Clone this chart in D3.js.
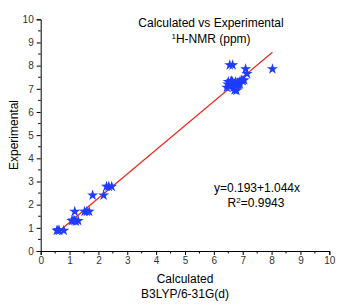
<!DOCTYPE html>
<html>
<head>
  <script src="https://d3js.org/d3.v7.min.js"></script>
  <style>
    body { margin: 0; background: #fff; }
    svg text { font-family: "Liberation Sans", Arial, sans-serif; fill: #000; }
  </style>
</head>
<body>
  <svg width="341" height="305"></svg>
  <script>
    // calculated (B3LYP/6-31G(d)) vs experimental 1H shifts, ppm
    const calc = [0.56, 0.60, 0.64, 0.80,
      1.08, 1.12, 1.17, 1.22, 1.30, 1.18, 1.52, 1.60, 1.68,
      1.80, 2.18, 2.28, 2.36, 2.46,
      6.45, 6.48, 6.50, 6.55, 6.58, 6.60, 6.62, 6.65, 6.68, 6.70, 6.72, 6.75,
      6.78, 6.80, 6.82, 6.85, 6.88, 6.90, 6.95, 7.00, 7.05, 6.75, 6.60,
      6.55, 6.65, 7.10, 7.15, 8.03];
    const exper = [0.88, 0.90, 0.88, 0.88,
      1.30, 1.33, 1.30, 1.28, 1.30, 1.70, 1.70, 1.70, 1.70,
      2.40, 2.40, 2.78, 2.78, 2.78,
      7.05, 7.20, 7.30, 7.10, 7.25, 7.30, 7.15, 7.30, 7.05, 7.20, 6.95, 7.30,
      6.92, 7.10, 7.25, 7.15, 7.30, 7.20, 7.38, 7.35, 7.38, 7.00, 7.35,
      8.03, 8.03, 7.85, 7.65, 7.85];
    const intercept = 0.193;
    const slope = 1.044;
    const ticks = [0, 1, 2, 3, 4, 5, 6, 7, 8, 9, 10];
    const minorTicks = [0.5, 1.5, 2.5, 3.5, 4.5, 5.5, 6.5, 7.5, 8.5, 9.5];

    const svg = d3.select("svg");
    const x = d3.scaleLinear().domain([0, 10]).range([40.7, 329.3]);
    const y = d3.scaleLinear().domain([0, 10]).range([251, 19.3]);

    // axes
    const xAxis = svg.append("g")
      .attr("transform", "translate(0," + y(0) + ")")
      .call(d3.axisBottom(x).tickValues(ticks).tickSize(4).tickPadding(2).tickFormat(d3.format("d")));
    xAxis.append("g").selectAll("line").data(minorTicks).enter().append("line")
      .attr("x1", d => x(d)).attr("x2", d => x(d)).attr("y1", 0).attr("y2", 2.5)
      .attr("stroke", "#000");

    const yAxis = svg.append("g")
      .attr("transform", "translate(" + x(0) + ",0)")
      .call(d3.axisLeft(y).tickValues(ticks).tickSize(4).tickPadding(3).tickFormat(d3.format("d")));
    yAxis.append("g").selectAll("line").data(minorTicks).enter().append("line")
      .attr("y1", d => y(d)).attr("y2", d => y(d)).attr("x1", 0).attr("x2", -2.5)
      .attr("stroke", "#000");

    svg.selectAll(".domain").attr("stroke", "#000").attr("stroke-width", 1);
    svg.selectAll(".tick text").style("font-size", "10px").style("fill", "#333")
      .style("font-family", "'Liberation Sans', Arial, sans-serif");

    // fit line over the data range
    const xmin = d3.min(calc), xmax = d3.max(calc);
    svg.append("line")
      .attr("x1", x(xmin)).attr("y1", y(intercept + slope * xmin))
      .attr("x2", x(xmax)).attr("y2", y(intercept + slope * xmax))
      .attr("stroke", "#f0281e").attr("stroke-width", 1.2);

    // points
    const pts = calc.map((c, i) => ({ c: c, e: exper[i] }));
    svg.append("g").selectAll("path").data(pts).enter().append("path")
      .attr("d", d3.symbol().type(d3.symbolStar).size(38))
      .attr("transform", d => "translate(" + x(d.c) + "," + y(d.e) + ")")
      .attr("fill", "#1f3cff");

    // titles and labels
    svg.append("text").attr("x", 211).attr("y", 27).attr("text-anchor", "middle")
      .style("font-size", "12px").text("Calculated vs Experimental");
    const t2 = svg.append("text").attr("x", 211).attr("y", 43).attr("text-anchor", "middle")
      .style("font-size", "12px");
    t2.append("tspan").attr("dy", "-4").style("font-size", "8px").text("1");
    t2.append("tspan").attr("dy", "4").text("H-NMR (ppm)");

    svg.append("text").attr("x", 257).attr("y", 192).attr("text-anchor", "middle")
      .style("font-size", "12px").text("y=0.193+1.044x");
    const r2 = svg.append("text").attr("x", 256).attr("y", 207).attr("text-anchor", "middle")
      .style("font-size", "12px");
    r2.append("tspan").text("R");
    r2.append("tspan").attr("dy", "-4").style("font-size", "8px").text("2");
    r2.append("tspan").attr("dy", "4").text("=0.9943");

    svg.append("text").attr("x", 185).attr("y", 283).attr("text-anchor", "middle")
      .style("font-size", "12px").text("Calculated");
    svg.append("text").attr("x", 185).attr("y", 298).attr("text-anchor", "middle")
      .style("font-size", "12px").text("B3LYP/6-31G(d)");
    svg.append("text")
      .attr("transform", "translate(17.5,135) rotate(-90)")
      .attr("text-anchor", "middle")
      .style("font-size", "12px").text("Experimental");
  </script>
</body>
</html>
